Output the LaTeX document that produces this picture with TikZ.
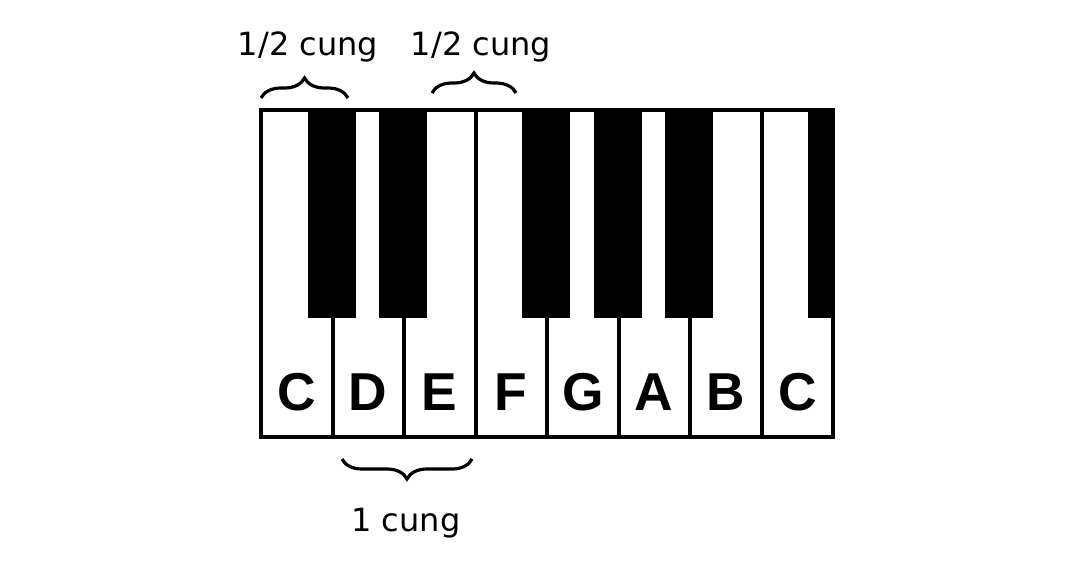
\documentclass[tikz,border=0pt]{standalone}
\usepackage{fontspec}
\setmainfont{Liberation Sans}
\newfontfamily\labelfont{DejaVu Sans}
\usetikzlibrary{decorations.pathreplacing}
\tikzset{
  keyline/.style={line width=3pt},
  notename/.style={font=\bfseries\fontsize{40}{40}\selectfont},
  stepbrace/.style={decorate,decoration={brace,amplitude=15pt},line width=2.4pt},
  steplabel/.style={font=\labelfont\fontsize{24}{24}\selectfont}
}
\begin{document}
\begin{tikzpicture}[x=0.75pt,y=-0.75pt]
  \useasboundingbox (0,0) rectangle (1075,568);
  % white keys
  \foreach \n/\l [count=\i from 0] in {c1/C,d/D,e/E,f/F,g/G,a/A,b/B,c2/C}{
    \draw[keyline] (261+71.5*\i,110) rectangle (332.5+71.5*\i,437);
    \node[notename] (key\n) at (296.75+71.5*\i,392) {\l};
  }
  % black keys
  \foreach \x in {332.5,404,547,618.5,690}
    \fill (\x-25,110) rectangle (\x+23,318);
  \fill (808,110) rectangle (833,318);
  \draw[line width=3.6pt] (261,110) rectangle (833,437);
  % braces
  \coordinate (hs1a) at (261,98);   \coordinate (hs1b) at (348,98);
  \coordinate (hs2a) at (432,93);   \coordinate (hs2b) at (516,93);
  \coordinate (ws1a) at (472,459);  \coordinate (ws1b) at (342,459);
  \draw[stepbrace] (hs1a) -- (hs1b);
  \draw[stepbrace] (hs2a) -- (hs2b);
  \draw[stepbrace] (ws1a) -- (ws1b);
  \node[steplabel] (half1) at (308,47) {1/2 cung};
  \node[steplabel] (half2) at (481,47) {1/2 cung};
  \node[steplabel] (whole) at (406,523) {1 cung};
\end{tikzpicture}
\end{document}
